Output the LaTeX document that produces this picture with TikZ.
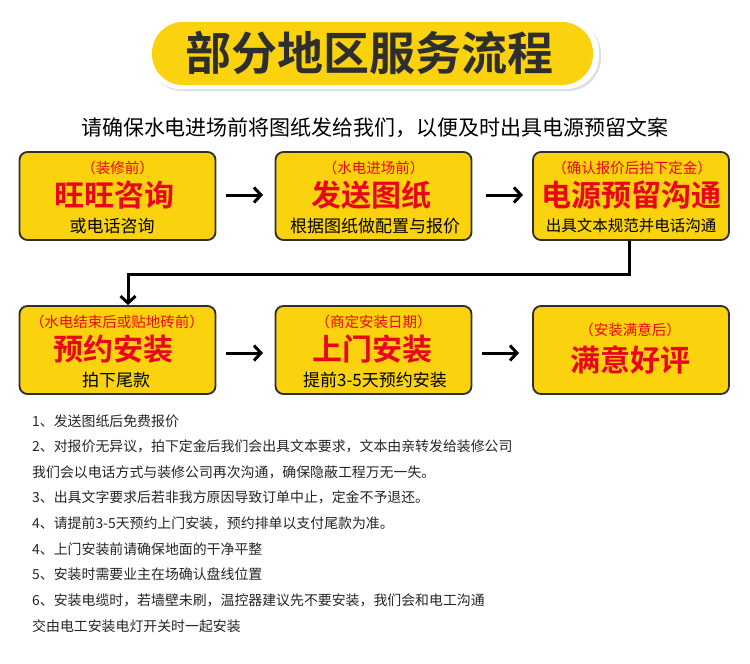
\documentclass[tikz,border=0pt]{standalone}
\usepackage{fontspec}
\setmainfont{Noto Sans CJK SC}[BoldFont={Noto Sans CJK SC Bold}]
\usetikzlibrary{arrows.meta,shadows}
\definecolor{ylw}{HTML}{FBD20E}
\definecolor{rd}{HTML}{E8071A}
\definecolor{drk}{HTML}{2E2E2E}
\tikzset{
  card/.style={draw=drk,line width=1.8pt,fill=ylw,rounded corners=8pt,minimum width=196pt,minimum height=88pt,inner sep=0pt},
  small/.style={text=rd,font=\fontsize{14.5}{16}\selectfont,inner sep=0pt},
  big/.style={text=rd,font=\fontsize{30}{32}\selectfont\bfseries,inner sep=0pt},
  sub/.style={text=black,font=\fontsize{17}{19}\selectfont,inner sep=0pt},
  flow/.style={line width=3pt,-{Straight Barb[length=7pt,width=15pt,line width=3pt]}},
  note/.style={anchor=west,inner sep=0pt,font=\fontsize{13.9}{16}\selectfont,text=black!85}
}
\begin{document}
\begin{tikzpicture}[x=1pt,y=-1pt]
\useasboundingbox[fill=white] (0,0) rectangle (750,664);
% title
\node[fill=white,rounded corners=33pt,minimum width=452pt,minimum height=70pt,inner sep=0pt,drop shadow={shadow xshift=2pt,shadow yshift=-2pt,opacity=0.25}] (tb) at (373,54) {};
\node[fill=ylw,rounded corners=31pt,minimum width=441pt,minimum height=63pt,inner sep=0pt] (title) at (372.5,53.5) {};
\node[text=drk,font=\fontsize{46}{48}\selectfont\bfseries,inner sep=0pt] (tt) at (369,53) {部分地区服务流程};
% subtitle
\node[font=\fontsize{21}{24}\selectfont,text=black,inner sep=0pt] (st) at (375,128) {请确保水电进场前将图纸发给我们，以便及时出具电源预留文案};
% cards
\node[card] (b1) at (117.5,196) {};
\node[card] (b2) at (373.5,196) {};
\node[card] (b3) at (631,196) {};
\node[card] (b4) at (117.5,350) {};
\node[card] (b5) at (373.5,350) {};
\node[card] (b6) at (631,350) {};
% texts
\node[small] (t1a) at (117.5,168) {（装修前）};
\node[big] (t1b) at (114,195) {旺旺咨询};
\node[sub] (t1c) at (112,226) {或电话咨询};
\node[small] (t2a) at (373.5,168) {（水电进场前）};
\node[big] (t2b) at (371,195) {发送图纸};
\node[sub] (t2c) at (375,226) {根据图纸做配置与报价};
\node[small] (t3a) at (632,168) {（确认报价后拍下定金）};
\node[big] (t3b) at (631,195) {电源预留沟通};
\node[sub,font=\fontsize{15.5}{17}\selectfont] (t3c) at (631,226) {出具文本规范并电话沟通};
\node[small] (t4a) at (117,322) {（水电结束后或贴地砖前）};
\node[big] (t4b) at (113,349) {预约安装};
\node[sub] (t4c) at (116,380) {拍下尾款};
\node[small] (t5a) at (373.5,322) {（商定安装日期）};
\node[big] (t5b) at (372,349) {上门安装};
\node[sub] (t5c) at (375,380) {提前3-5天预约安装};
\node[small] (t6a) at (630,330) {（安装满意后）};
\node[big] (t6b) at (630,360) {满意好评};
% arrows
\coordinate (a1s) at (226,195); \coordinate (a1e) at (263,195);
\coordinate (a2s) at (486,195); \coordinate (a2e) at (523,195);
\coordinate (a4s) at (226,353); \coordinate (a4e) at (263,353);
\coordinate (a5s) at (482,353); \coordinate (a5e) at (519,353);
\draw[flow] (a1s) -- (a1e);
\draw[flow] (a2s) -- (a2e);
\draw[flow] (a4s) -- (a4e);
\draw[flow] (a5s) -- (a5e);
\draw[flow] (b3.south -| 629,0) -- (629,274) -- (128,274) -- (b4.north -| 128,0);
% notes
\foreach \t [count=\i from 0] in {
 1、发送图纸后免费报价,
 2、对报价无异议，拍下定金后我们会出具文本要求，文本由亲转发给装修公司,
 我们会以电话方式与装修公司再次沟通，确保隐蔽工程万无一失。,
 3、出具文字要求后若非我方原因导致订单中止，定金不予退还。,
 4、请提前3-5天预约上门安装，预约排单以支付尾款为准。,
 4、上门安装前请确保地面的干净平整,
 5、安装时需要业主在场确认盘线位置,
 6、安装电缆时，若墙壁未刷，温控器建议先不要安装，我们会和电工沟通,
 交由电工安装电灯开关时一起安装}
 \node[note] (n\i) at (32,{421+25.6*\i}) {\t};
\end{tikzpicture}
\end{document}
